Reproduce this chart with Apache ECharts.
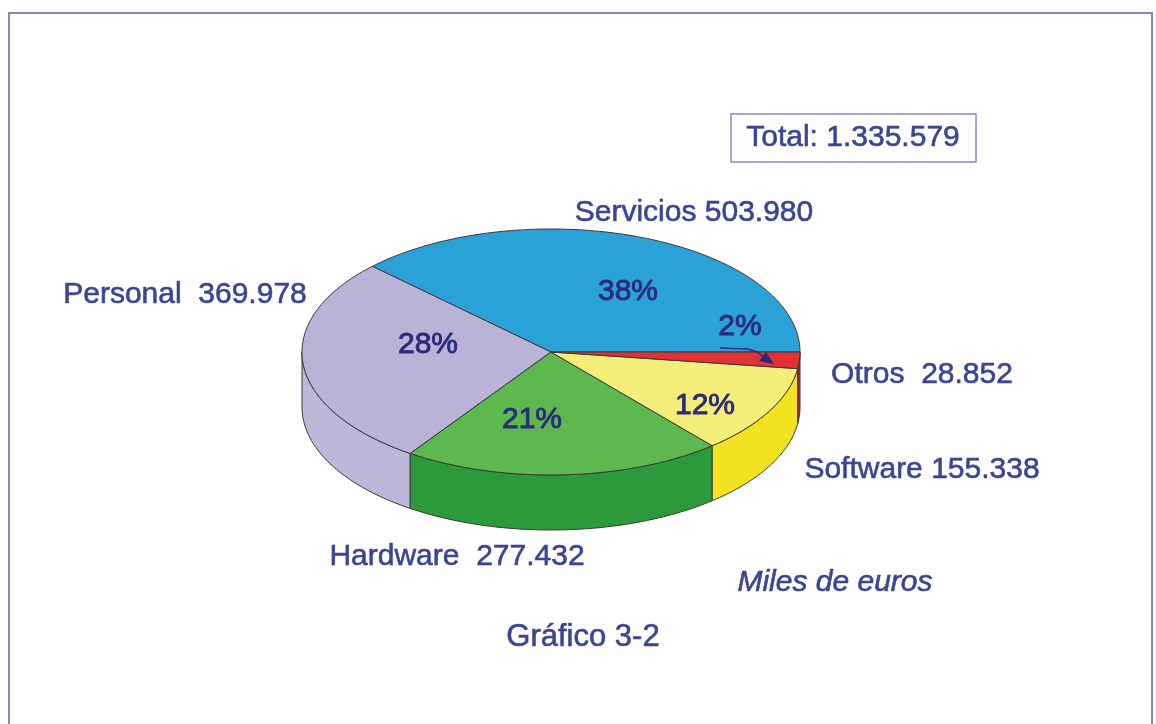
<!DOCTYPE html>
<html>
<head>
<meta charset="utf-8">
<script src="https://cdn.jsdelivr.net/npm/echarts@6/dist/echarts.min.js"></script>
<style>
  html, body { margin: 0; padding: 0; background: #fff; }
  #chart { width: 1156px; height: 724px; }
</style>
</head>
<body>
<div id="chart"></div>
<script>
// data (miles de euros), counter-clockwise from 3 o'clock
var categories = ['Servicios', 'Personal', 'Hardware', 'Software', 'Otros'];
var values = [503980, 369978, 277432, 155338, 28852];
var total = 1335579;
var subtitle = 'Miles de euros';
var caption = 'Gráfico 3-2';

// look
var topColors = ['#2ba2d7', '#b9b3d8', '#5db84f', '#f3ee78', '#e03232'];
var sideColors = ['#2390c0', '#bdb7da', '#2a9a3a', '#f2e21f', '#b82020'];
var textColor = '#3a4594';
var pctColor = '#2d2a7c';
var FONT = 'Liberation Sans, Arial, sans-serif';

// pie geometry (top ellipse + wall depth)
var cx = 551, cy = 352, rx = 249, ry = 123, depth = 55;

// where the texts sit
var nameLabelAt = [[694, 213], [185, 295], [457, 557], [922, 470], [922, 375]];
var nameGap = [' ', '  ', '  ', ' ', '  '];
var pctLabelAt = [[628, 292], [428, 345], [532, 420], [705, 406], [740, 327]];

function fmt(n) {
    return String(n).replace(/\B(?=(\d{3})+(?!\d))/g, '.');
}

var sum = values.reduce(function (a, b) { return a + b; }, 0);
var starts = [];
(function () {
    var acc = 0;
    for (var i = 0; i < values.length; i++) { starts.push(acc / sum); acc += values[i]; }
})();

function pt(a, dy) {
    return [cx + rx * Math.cos(a), cy + ry * Math.sin(a) + (dy || 0)];
}
function arc(a0, a1, dy) {
    var pts = [], n = Math.max(2, Math.ceil(Math.abs(a1 - a0) / 0.02));
    for (var k = 0; k <= n; k++) pts.push(pt(a0 + (a1 - a0) * k / n, dy));
    return pts;
}

function txt(s, x, y, color, size, extra) {
    var st = {
        text: s, x: x, y: y, fill: color, fontSize: size, fontFamily: FONT,
        align: 'center', verticalAlign: 'middle', stroke: color, lineWidth: 0.6
    };
    for (var k in extra) st[k] = extra[k];
    return { type: 'text', z: 20, style: st };
}

function renderItem(params, api) {
    var i = params.dataIndex;
    var v = api.value(0);
    var a0 = -2 * Math.PI * starts[i];
    var a1 = -2 * Math.PI * (starts[i] + v / sum);
    var children = [];

    // front wall: the part of the slice lying in the near half
    var lo = Math.max(a1, -2 * Math.PI), hi = Math.min(a0, -Math.PI);
    if (lo < hi) {
        var topEdge = arc(lo, hi, 0);
        var botEdge = arc(hi, lo, depth);
        children.push({
            type: 'polygon',
            shape: { points: topEdge.concat(botEdge) },
            style: { fill: sideColors[i], stroke: '#3a3a3a', lineWidth: 1 }
        });
    }
    // top face
    children.push({
        type: 'polygon',
        shape: { points: [[cx, cy]].concat(arc(a0, a1, 0)) },
        style: { fill: topColors[i], stroke: '#3a3a3a', lineWidth: 1 }
    });
    // percentage
    children.push(txt(Math.round(v / sum * 100) + '%', pctLabelAt[i][0], pctLabelAt[i][1],
        pctColor, 30, { lineWidth: 0.9 }));
    // name + value
    children.push(txt(categories[i] + nameGap[i] + fmt(v), nameLabelAt[i][0], nameLabelAt[i][1],
        textColor, 30));
    return { type: 'group', children: children };
}

var chart = echarts.init(document.getElementById('chart'));
var option = {
    backgroundColor: '#fff',
    animation: false,
    graphic: [
        // outer frame (bottom edge runs off the page)
        { type: 'rect', shape: { x: 9, y: 13, width: 1143, height: 800 },
          style: { fill: 'none', stroke: '#8a87c0', lineWidth: 2 } },
        // total box
        { type: 'rect', shape: { x: 731, y: 114, width: 245, height: 48 },
          style: { fill: '#fff', stroke: '#8a87c0', lineWidth: 1.5 } },
        txt('Total: ' + fmt(total), 853, 138, textColor, 30),
        txt(subtitle, 835, 583, textColor, 30, { fontStyle: 'italic' }),
        txt(caption, 583, 637, textColor, 31),
        // little arrow from "2%" to the Otros slice
        { type: 'polyline', z: 10, shape: { points: [[720, 348], [748, 349], [757, 352], [765, 358]] },
          style: { stroke: pctColor, lineWidth: 1.5, fill: 'none' } },
        { type: 'polygon', z: 10, shape: { points: [[774, 364], [759, 361], [766, 352]] },
          style: { fill: pctColor } }
    ],
    series: [{
        type: 'custom',
        coordinateSystem: 'none',
        renderItem: renderItem,
        data: values.map(function (v, i) { return { name: categories[i], value: [v] }; })
    }]
};
chart.setOption(option);
window.addEventListener('resize', function () { chart.resize(); });
</script>
</body>
</html>
